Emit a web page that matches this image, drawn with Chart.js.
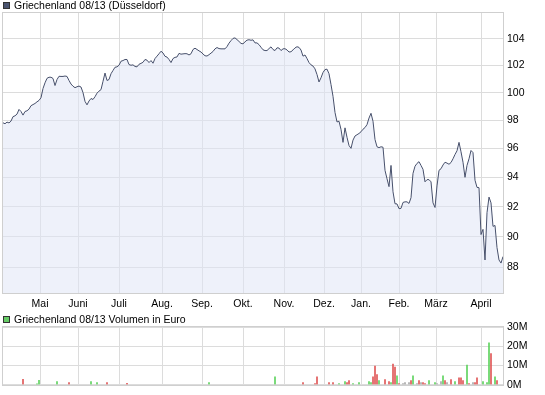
<!DOCTYPE html>
<html>
<head>
<meta charset="utf-8">
<title>Griechenland 08/13</title>
<script src="https://cdn.jsdelivr.net/npm/chart.js@4.4.1/dist/chart.umd.min.js"></script>
<style>
  body { margin: 0; background: #fff; }
  #wrap { position: relative; width: 545px; height: 395px; }
  canvas { position: absolute; left: 0; }
  #priceChart { top: 0; }
  #volumeChart { top: 312px; }
</style>
</head>
<body>
<div id="wrap">
  <canvas id="priceChart" width="545" height="312"></canvas>
  <canvas id="volumeChart" width="545" height="83"></canvas>
</div>
<script>
// one value per trading day, roughly April to April
const priceLabel = 'Griechenland 08/13 (Düsseldorf)';
const priceValues = [
  97.82, 97.75, 97.87, 97.81, 97.94, 98.26, 98.32, 98.44, 98.78, 98.63,
  98.37, 98.63, 98.68, 98.80, 99.05, 99.13, 99.21, 99.33, 99.43, 99.63,
  100.30, 100.72, 101.05, 101.13, 101.13, 101.04, 100.52, 100.96, 101.20, 101.19,
  101.19, 101.22, 101.19, 100.89, 100.63, 100.47, 100.36, 100.43, 100.48, 100.41,
  100.00, 99.36, 99.11, 99.39, 99.57, 99.50, 99.70, 99.96, 100.11, 100.22,
  100.83, 101.44, 100.89, 100.96, 101.39, 101.63, 101.87, 101.90, 102.02, 102.32,
  102.37, 102.45, 102.45, 102.07, 102.02, 102.05, 101.93, 101.90, 102.09, 102.16,
  102.24, 102.45, 102.40, 102.22, 102.37, 102.17, 102.52, 102.70, 102.88, 103.07,
  102.94, 102.69, 102.63, 102.45, 102.22, 102.52, 102.61, 102.64, 102.91, 102.85,
  102.87, 102.89, 102.88, 102.79, 102.88, 103.20, 103.30, 103.20, 103.10, 103.01,
  102.86, 102.73, 102.71, 102.81, 102.93, 103.05, 103.25, 103.35, 103.27, 103.25,
  103.25, 103.25, 103.42, 103.68, 103.87, 104.04, 104.08, 103.95, 103.81, 103.66,
  103.63, 103.78, 103.91, 103.94, 103.90, 103.93, 103.70, 103.70, 103.57, 103.37,
  103.18, 103.12, 103.12, 103.27, 103.40, 103.20, 103.12, 103.33, 103.31, 103.12,
  103.25, 103.26, 103.17, 103.01, 103.03, 103.17, 103.32, 103.41, 103.36, 103.16,
  102.70, 102.79, 102.52, 102.22, 102.05, 101.96, 101.75, 101.33, 100.78, 101.09,
  101.48, 101.70, 101.73, 101.39, 100.59, 99.73, 98.56, 97.88, 97.93, 97.35,
  96.43, 97.46, 96.79, 96.21, 96.01, 96.59, 96.88, 96.97, 97.06, 97.18,
  97.36, 97.48, 97.69, 98.16, 98.50, 97.93, 96.63, 96.12, 96.06, 96.12,
  96.09, 94.48, 93.90, 93.36, 94.82, 93.01, 92.20, 92.19, 91.87, 91.89,
  92.29, 92.33, 92.33, 92.22, 92.61, 94.27, 94.76, 94.96, 95.08, 94.82,
  94.55, 93.69, 93.84, 93.84, 93.69, 92.26, 91.95, 93.41, 94.48, 94.59,
  94.85, 95.04, 94.98, 94.90, 95.02, 95.28, 95.58, 95.84, 96.43, 95.77,
  95.04, 94.00, 94.82, 95.28, 95.86, 95.71, 93.80, 93.31, 93.29, 90.15,
  90.49, 88.49, 91.60, 92.65, 92.26, 90.69, 90.75, 89.29, 88.49, 88.29,
  88.71
];
const lastDay = priceValues.length - 1;

// month starts, as trading-day index
const monthLabels = ['Mai', 'Juni', 'Juli', 'Aug.', 'Sep.', 'Okt.', 'Nov.', 'Dez.', 'Jan.', 'Feb.', 'März', 'April'];
const monthStarts = [18.5, 37.5, 58, 79.5, 99.5, 120, 140.5, 160.5, 179, 198, 216.5, 239];
const priceTicks = [88, 90, 92, 94, 96, 98, 100, 102, 104];

// volume in million euro, only days with turnover
const volumeLabel = 'Griechenland 08/13 Volumen in Euro';
const volDays = [10, 17, 18, 27, 33, 44, 47, 52, 62, 103, 136, 150, 156, 157, 163, 165, 168, 171, 172, 173,
  175, 178, 183, 184, 185, 186, 187, 188, 191, 193, 194, 195, 196, 197, 198, 200, 201, 203, 204, 205,
  207, 208, 209, 210, 211, 213, 216, 217, 219, 220, 221, 222, 224, 226, 228, 229, 230, 232, 233, 235,
  236, 237, 240, 242, 243, 244, 246, 247];
const volMillions = [2.8, 0.5, 2.3, 1.6, 1.1, 1.6, 1.1, 1.1, 0.7, 1.1, 4.1, 1.1, 0.6, 4.1, 1.1, 1.1, 0.6, 1.6, 1.1, 2.1,
  0.6, 1.1, 1.6, 1.1, 4.1, 9.7, 5.2, 2.1, 2.6, 1.6, 1.1, 10.7, 9.2, 4.6, 0.6, 0.6, 1.1, 1.1, 2.1, 4.6,
  0.6, 2.1, 1.1, 1.1, 0.6, 2.1, 1.1, 0.6, 1.6, 4.6, 2.1, 1.1, 2.6, 1.6, 3.6, 3.6, 2.1, 10.2, 0.6, 1.1,
  1.1, 3.6, 1.6, 1.1, 21.8, 16.2, 4.1, 2.1];
const volTrend = ['d', 'u', 'u', 'u', 'd', 'u', 'u', 'd', 'd', 'u', 'u', 'd', 'd', 'd', 'd', 'd', 'u', 'u', 'd', 'd',
  'u', 'u', 'u', 'u', 'd', 'd', 'd', 'u', 'd', 'd', 'u', 'd', 'd', 'u', 'd', 'n', 'n', 'n', 'd', 'u',
  'n', 'd', 'n', 'd', 'd', 'u', 'u', 'n', 'n', 'u', 'd', 'n', 'd', 'u', 'd', 'd', 'd', 'u', 'd', 'n',
  'd', 'd', 'u', 'u', 'u', 'd', 'u', 'd'];
const volumeTicks = [0, 10, 20, 30];

const trendColors = { u: '#5fd35f', d: '#e05858', n: '#a8a8a8' };
const gridColor = '#dcdcdc';
const tickFont = { family: 'Liberation Sans, Arial, sans-serif', size: 10.5 };

// frame round the plot area plus the small legend square in the corner
const panelDecor = {
  id: 'panelDecor',
  beforeDatasetsDraw(chart) {
    const a = chart.chartArea;
    const ctx = chart.ctx;
    ctx.save();
    ctx.strokeStyle = '#cfcfcf';
    ctx.lineWidth = 1;
    ctx.strokeRect(Math.round(a.left) - 0.5, Math.round(a.top) - 0.5,
      Math.round(a.right - a.left) + 1, Math.round(a.bottom - a.top) + 1);
    ctx.restore();
  },
  afterDraw(chart, args, opts) {
    const ctx = chart.ctx;
    ctx.save();
    ctx.fillStyle = opts.color;
    ctx.fillRect(3, opts.boxY, 7, 7);
    ctx.strokeStyle = '#333';
    ctx.strokeRect(3.5, opts.boxY + 0.5, 6, 6);
    ctx.fillStyle = '#000';
    ctx.font = '10.5px Liberation Sans, Arial, sans-serif';
    ctx.textBaseline = 'middle';
    ctx.fillText(chart.data.datasets[0].label, 14, opts.boxY + 4);
    ctx.restore();
  }
};

new Chart(document.getElementById('priceChart'), {
  type: 'line',
  data: {
    datasets: [{
      label: priceLabel,
      data: priceValues.map((v, i) => ({ x: i, y: v })),
      borderColor: '#47506b',
      borderWidth: 1,
      backgroundColor: 'rgba(224,230,246,0.55)',
      fill: 'start',
      pointRadius: 0,
      tension: 0
    }]
  },
  options: {
    responsive: false,
    animation: false,
    devicePixelRatio: 1,
    layout: { padding: { left: 3, top: 13, right: 0, bottom: 0 } },
    plugins: {
      legend: { display: false },
      tooltip: { enabled: false },
      panelDecor: { color: '#4a5470', boxY: 2 }
    },
    scales: {
      x: {
        type: 'linear',
        min: 0,
        max: lastDay,
        afterBuildTicks: s => { s.ticks = monthStarts.map(v => ({ value: v })); },
        afterFit: s => { s.height = 19; },
        grid: { color: gridColor, drawTicks: false },
        border: { display: false },
        ticks: {
          autoSkip: false, maxRotation: 0, padding: 5, color: '#000', font: tickFont,
          callback: (v, i) => monthLabels[i]
        }
      },
      y: {
        type: 'logarithmic',
        position: 'right',
        min: 86.38,
        max: 105.99,
        afterBuildTicks: s => { s.ticks = priceTicks.map(v => ({ value: v })); },
        afterFit: s => { s.width = 42; },
        grid: { color: gridColor, drawTicks: false },
        border: { display: false },
        ticks: { padding: 4, color: '#000', font: tickFont, callback: v => String(v) }
      }
    }
  },
  plugins: [panelDecor]
});

new Chart(document.getElementById('volumeChart'), {
  type: 'bar',
  data: {
    datasets: [{
      label: volumeLabel,
      data: volDays.map((d, k) => ({ x: d, y: volMillions[k] })),
      backgroundColor: volTrend.map(t => trendColors[t]),
      barThickness: 1
    }]
  },
  options: {
    responsive: false,
    animation: false,
    devicePixelRatio: 1,
    layout: { padding: { left: 3, top: 15, right: 0, bottom: 5 } },
    plugins: {
      legend: { display: false },
      tooltip: { enabled: false },
      panelDecor: { color: '#66cc66', boxY: 4 }
    },
    scales: {
      x: {
        type: 'linear',
        min: 0,
        max: lastDay,
        offset: false,
        afterBuildTicks: s => { s.ticks = monthStarts.map(v => ({ value: v })); },
        afterFit: s => { s.height = 0; },
        grid: { color: gridColor, drawTicks: false, offset: false },
        border: { display: false },
        ticks: { display: false }
      },
      y: {
        position: 'right',
        min: 0,
        max: 30,
        afterBuildTicks: s => { s.ticks = volumeTicks.map(v => ({ value: v })); },
        afterFit: s => { s.width = 42; },
        grid: { color: gridColor, drawTicks: false },
        border: { display: false },
        ticks: { padding: 4, color: '#000', font: tickFont, callback: v => v + 'M' }
      }
    }
  },
  plugins: [panelDecor]
});
</script>
</body>
</html>
